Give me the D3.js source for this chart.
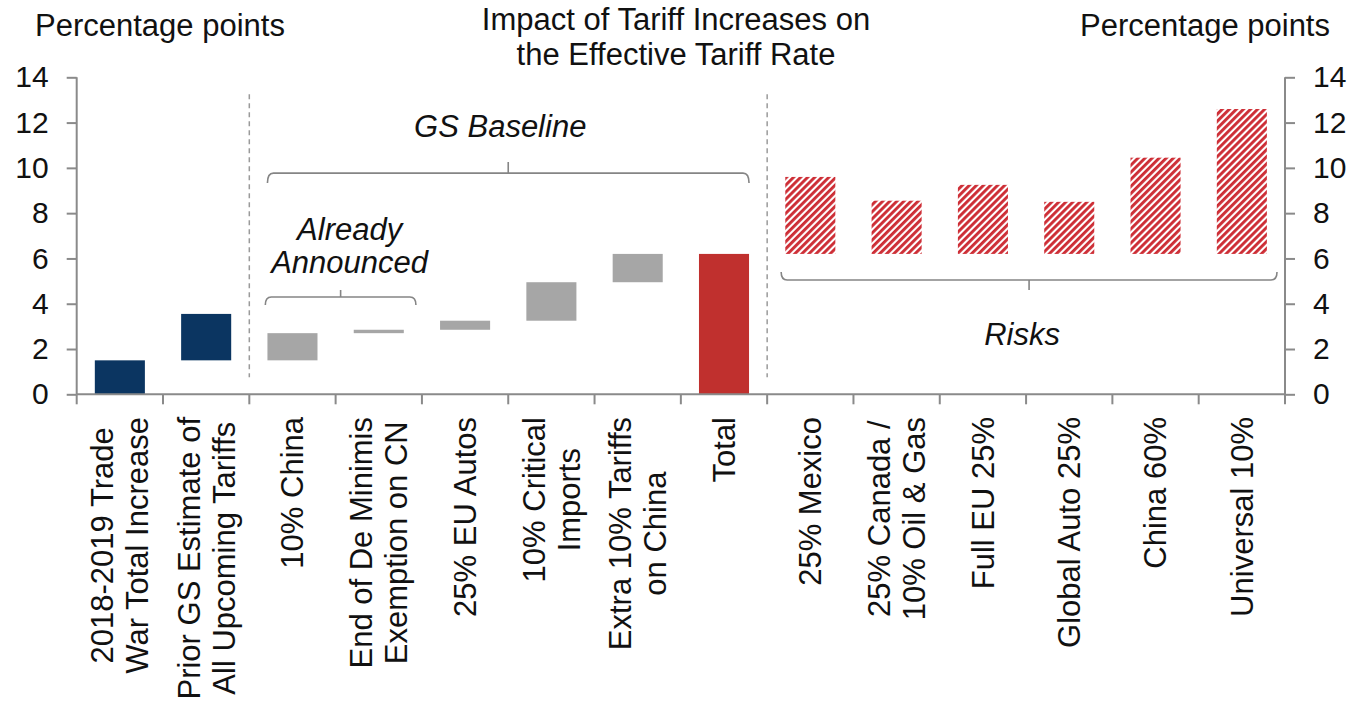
<!DOCTYPE html>
<html>
<head>
<meta charset="utf-8">
<script src="https://cdn.jsdelivr.net/npm/d3@7"></script>
<style>
  body { margin: 0; background: #fff; }
  svg text { font-family: "Liberation Sans", Arial, sans-serif; fill: #111; }
</style>
</head>
<body>
<svg id="chart" width="1352" height="701"></svg>
<script>
// category labels (\n = line break)
var categories = [
  "2018-2019 Trade\nWar Total Increase",
  "Prior GS Estimate of\nAll Upcoming Tariffs",
  "10% China",
  "End of De Minimis\nExemption on CN",
  "25% EU Autos",
  "10% Critical\nImports",
  "Extra 10% Tariffs\non China",
  "Total",
  "25% Mexico",
  "25% Canada /\n10% Oil & Gas",
  "Full EU 25%",
  "Global Auto 25%",
  "China 60%",
  "Universal 10%"
];
// floating bars: start and end in percentage points
var barStart = [0, 1.5, 1.5, 2.7, 2.85, 3.25, 4.95, 0, 6.2, 6.2, 6.2, 6.2, 6.2, 6.2];
var barEnd   = [1.5, 3.55, 2.7, 2.85, 3.25, 4.95, 6.2, 6.2, 9.6, 8.55, 9.25, 8.5, 10.45, 12.6];
var barKind  = ["prior", "prior", "step", "step", "step", "step", "step", "total",
                "risk", "risk", "risk", "risk", "risk", "risk"];
var yTicks = [0, 2, 4, 6, 8, 10, 12, 14];

var colors = { prior: "#0b3561", step: "#a6a6a6", total: "#c0302e", risk: "url(#hatch)" };
var axisColor = "#8a8a8a";
var fs = 31;

var svg = d3.select("#chart");
var plotLeft = 76.7, plotRight = 1285, plotTop = 77.3, plotBottom = 394.3;

var x = d3.scaleBand()
  .domain(categories)
  .range([plotLeft, plotRight])
  .paddingInner(0.42)
  .paddingOuter(0.21);

var y = d3.scaleLinear()
  .domain([0, 14])
  .range([plotBottom, plotTop]);

var gap = (x.step() - x.bandwidth()) / 2;
function slotLeft(i) { return x(categories[i]) - gap; }
function slotRight(i) { return x(categories[i]) + x.bandwidth() + gap; }

// hatch pattern for risk bars
var defs = svg.append("defs");
var pat = defs.append("pattern")
  .attr("id", "hatch")
  .attr("patternUnits", "userSpaceOnUse")
  .attr("width", 5)
  .attr("height", 5)
  .attr("patternTransform", "rotate(45)");
pat.append("rect").attr("width", 5).attr("height", 5).attr("fill", "#fff");
pat.append("rect").attr("width", 2.9).attr("height", 5).attr("fill", "#cd2d35");

// bars
var bars = categories.map(function(c, i) {
  return { cat: c, start: barStart[i], end: barEnd[i], kind: barKind[i] };
});
svg.append("g").selectAll("rect")
  .data(bars)
  .enter().append("rect")
  .attr("x", function(d) { return x(d.cat); })
  .attr("width", x.bandwidth())
  .attr("y", function(d) { return y(d.end); })
  .attr("height", function(d) { return y(d.start) - y(d.end); })
  .attr("fill", function(d) { return colors[d.kind]; });

// left axis
var yl = svg.append("g")
  .attr("transform", "translate(" + plotLeft + ",0)")
  .call(d3.axisLeft(y).tickValues(yTicks).tickSize(10).tickPadding(18));
// right axis
var yr = svg.append("g")
  .attr("transform", "translate(" + plotRight + ",0)")
  .call(d3.axisRight(y).tickValues(yTicks).tickSize(10).tickPadding(18));
[yl, yr].forEach(function(g) {
  g.select(".domain").attr("stroke", axisColor).attr("stroke-width", 2)
    .attr("d", "M0," + plotTop + "V" + plotBottom);
  g.selectAll(".tick line").attr("stroke", axisColor).attr("stroke-width", 2);
  g.selectAll(".tick text").attr("font-size", 30).attr("font-family", "Liberation Sans, Arial, sans-serif").attr("fill", "#111");
});

// bottom axis with ticks at slot boundaries
var xa = svg.append("g");
xa.append("line")
  .attr("x1", plotLeft).attr("x2", plotRight)
  .attr("y1", plotBottom).attr("y2", plotBottom)
  .attr("stroke", axisColor).attr("stroke-width", 2);
var bounds = d3.range(categories.length + 1).map(function(i) {
  return i < categories.length ? slotLeft(i) : slotRight(i - 1);
});
xa.selectAll("line.tk")
  .data(bounds)
  .enter().append("line")
  .attr("class", "tk")
  .attr("x1", function(d) { return d; }).attr("x2", function(d) { return d; })
  .attr("y1", plotBottom).attr("y2", plotBottom + 10)
  .attr("stroke", axisColor).attr("stroke-width", 2);

// rotated category labels, lines centred on each other, block ending at the axis
var labelTop = 417, lineGap = 35;
categories.forEach(function(c, i) {
  var lines = c.split("\n");
  var cx = x(c) + x.bandwidth() / 2;
  var g = svg.append("g");
  var texts = lines.map(function(l, k) {
    var off = (k - (lines.length - 1) / 2) * lineGap;
    return g.append("text")
      .attr("font-size", fs)
      .attr("text-anchor", "middle")
      .attr("dy", "0.35em")
      .attr("data-off", off)
      .text(l);
  });
  var maxLen = d3.max(texts, function(t) { return t.node().getComputedTextLength(); });
  var cy = labelTop + maxLen / 2;
  texts.forEach(function(t) {
    var off = +t.attr("data-off");
    t.attr("transform", "translate(" + (cx + off) + "," + cy + ") rotate(-90)");
  });
});

// dashed separators
[2, 8].forEach(function(i) {
  svg.append("line")
    .attr("x1", slotLeft(i)).attr("x2", slotLeft(i))
    .attr("y1", y(13.25)).attr("y2", y(0.75))
    .attr("stroke", "#9a9a9a").attr("stroke-width", 1.5)
    .attr("stroke-dasharray", "5,4");
});

// brackets
function bracket(x1, x2, yv, endDy, notchDy) {
  var y0 = y(yv), r = 6, mid = (x1 + x2) / 2;
  var p = d3.path();
  p.moveTo(x1, y0 + endDy);
  p.quadraticCurveTo(x1, y0, x1 + r, y0);
  p.lineTo(x2 - r, y0);
  p.quadraticCurveTo(x2, y0, x2, y0 + endDy);
  p.moveTo(mid, y0);
  p.lineTo(mid, y0 + notchDy);
  svg.append("path")
    .attr("d", p.toString())
    .attr("fill", "none")
    .attr("stroke", "#858585")
    .attr("stroke-width", 1.6);
}
bracket(x(categories[2]), x(categories[7]) + x.bandwidth(), 9.77, 10, -11);
bracket(slotLeft(2) + 16, slotRight(3) - 6, 4.3, 8, -7);
bracket(slotLeft(8) + 14, slotRight(13) - 8, 5.05, -8, 10);

// annotation texts
function note(txt, tx, ty, italic, anchor) {
  return svg.append("text")
    .attr("x", tx).attr("y", ty)
    .attr("font-size", fs)
    .attr("font-style", italic ? "italic" : "normal")
    .attr("text-anchor", anchor || "middle")
    .text(txt);
}
note("GS Baseline", (x(categories[2]) + x(categories[7]) + x.bandwidth()) / 2 - 8, 137, true);
note("Already", (slotLeft(2) + slotRight(3)) / 2 + 14, 240, true);
note("Announced", (slotLeft(2) + slotRight(3)) / 2 + 14, 273, true);
note("Risks", (slotLeft(8) + slotRight(13)) / 2 - 4, 345, true);

// titles
note("Impact of Tariff Increases on", 676, 30, false);
note("the Effective Tariff Rate", 676, 65, false);
note("Percentage points", 35, 36, false, "start");
note("Percentage points", 1330, 36, false, "end");
</script>
</body>
</html>
